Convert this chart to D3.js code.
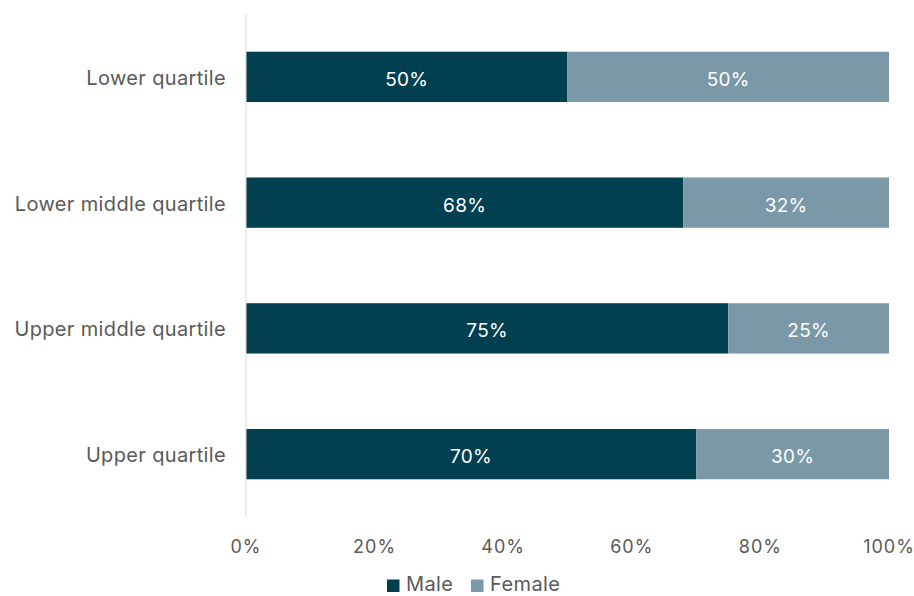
<!DOCTYPE html>
<html>
<head>
<meta charset="utf-8">
<script src="https://cdn.jsdelivr.net/npm/d3@7"></script>
<style>
  body { margin: 0; background: #fff; }
  svg { font-family: "Inter", "Liberation Sans", sans-serif; }
</style>
</head>
<body>
<svg id="chart" width="914" height="596"></svg>
<script>
const categories = ["Lower quartile", "Lower middle quartile", "Upper middle quartile", "Upper quartile"]
const male   = [50, 68, 75, 70]
const female = [50, 32, 25, 30]
const seriesNames = ["Male", "Female"]
const ticks = [0, 20, 40, 60, 80, 100]

const colors = { Male: "#023f50", Female: "#7b98a9" }
const textColor = "#595959"
const svg = d3.select("#chart")

const x = d3.scaleLinear().domain([0, 100]).range([246, 889])
const y = d3.scaleBand().domain(categories).range([14, 517])
  .paddingInner(0.6).paddingOuter(0.3)

const rows = categories.map((c, i) => ({ cat: c, Male: male[i], Female: female[i] }))
const stacked = d3.stack().keys(seriesNames)(rows)

// bars
const layer = svg.selectAll("g.layer").data(stacked).enter().append("g")
  .attr("class", "layer")
  .attr("fill", d => colors[d.key])

layer.selectAll("rect").data(d => d).enter().append("rect")
  .attr("x", d => x(d[0]))
  .attr("y", d => y(d.data.cat))
  .attr("width", d => x(d[1]) - x(d[0]))
  .attr("height", y.bandwidth())

// value labels
layer.selectAll("text").data(d => d).enter().append("text")
  .attr("x", d => (x(d[0]) + x(d[1])) / 2)
  .attr("y", d => y(d.data.cat) + y.bandwidth() / 2 + 9)
  .attr("text-anchor", "middle")
  .attr("fill", "#fff")
  .attr("font-size", 19)
  .attr("letter-spacing", 0.3)
  .text(d => (d[1] - d[0]) + "%")

// y axis line
svg.append("line")
  .attr("x1", x(0)).attr("x2", x(0))
  .attr("y1", 14).attr("y2", 517)
  .attr("stroke", "#d9d9d9").attr("stroke-width", 1)

// category labels
svg.selectAll("text.cat").data(categories).enter().append("text")
  .attr("class", "cat")
  .attr("x", 226)
  .attr("y", d => y(d) + y.bandwidth() / 2 + 8)
  .attr("text-anchor", "end")
  .attr("fill", textColor)
  .attr("font-size", 20)
  .attr("letter-spacing", 0.35)
  .text(d => d)

// x tick labels
svg.selectAll("text.tick").data(ticks).enter().append("text")
  .attr("class", "tick")
  .attr("x", d => x(d))
  .attr("y", 553)
  .attr("text-anchor", "middle")
  .attr("fill", textColor)
  .attr("font-size", 18)
  .attr("letter-spacing", 1)
  .text(d => d + "%")

// legend (baseline kept just clear of the bottom edge)
const legend = svg.append("g").attr("transform", "translate(387,591)")
const legendX = [0, 84]
seriesNames.forEach((name, i) => {
  const g = legend.append("g").attr("transform", `translate(${legendX[i]},0)`)
  g.append("rect").attr("x", 0).attr("y", -11.5).attr("width", 12.5).attr("height", 12.5)
    .attr("fill", colors[name])
  g.append("text").attr("x", 19).attr("y", 0)
    .attr("fill", textColor).attr("font-size", 20)
    .attr("letter-spacing", 0.4)
    .text(name)
})
</script>
</body>
</html>
